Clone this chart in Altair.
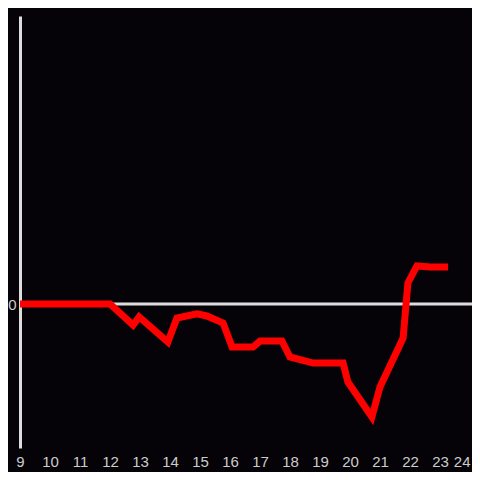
import altair as alt
import pandas as pd

hours = [9, 12, 12.77, 12.97, 13.93, 14.23, 14.9, 15.23, 15.77, 16.07, 16.77, 17.0, 17.73,
         18.0, 18.77, 19.77, 19.93, 20.73, 21.0, 21.77, 21.93, 22.23, 22.67, 23.27]
values = [0, 0, -0.146, -0.09, -0.264, -0.097, -0.069, -0.083, -0.132, -0.299, -0.299, -0.257, -0.257,
          -0.368, -0.410, -0.410, -0.542, -0.785, -0.576, -0.236, 0.146, 0.264, 0.257, 0.257]
x_ticks = list(range(9, 25))

df = pd.DataFrame({"hour": hours, "value": values})

xs = alt.Scale(domain=[9, 24.0667], nice=False, zero=False)
ys = alt.Scale(domain=[-1, 2], nice=False, zero=False)

zero = alt.Chart(pd.DataFrame({"y": [0]})).mark_rule(color="#dddddd", strokeWidth=3).encode(
    y=alt.Y("y:Q", scale=ys)
)

line = alt.Chart(df).mark_line(color="#ff0000", strokeWidth=7, strokeCap="butt").encode(
    x=alt.X("hour:Q", scale=xs,
            axis=alt.Axis(values=x_ticks, format="d", domain=False, ticks=False, tickSize=0, grid=False,
                          labelPadding=6, labelFontSize=15, labelColor="#cccccc",
                          labelFont="Liberation Sans", title=None, labelFlush=False,
                          labelAlign=alt.condition("datum.value == 24", alt.value("right"), alt.value("center")),
                          labelBound=False)),
    y=alt.Y("value:Q", scale=ys,
            axis=alt.Axis(values=[0], domain=True, domainColor="#dddddd", domainWidth=3,
                          ticks=False, tickSize=0, grid=False, labelPadding=4, labelFontSize=15,
                          labelAlign="right", labelBaseline="middle", labelFlush=False,
                          labelColor="#cccccc", labelFont="Liberation Sans", title=None)),
)

chart = alt.layer(zero, line).properties(
    width=452, height=432, background="#050307",
    padding={"left": 12, "top": 8, "right": 0, "bottom": 24},
    autosize=alt.AutoSizeParams(type="none"),
).configure_view(stroke=None)

chart.save("out.html", embed_options={"renderer": "svg", "actions": False})
